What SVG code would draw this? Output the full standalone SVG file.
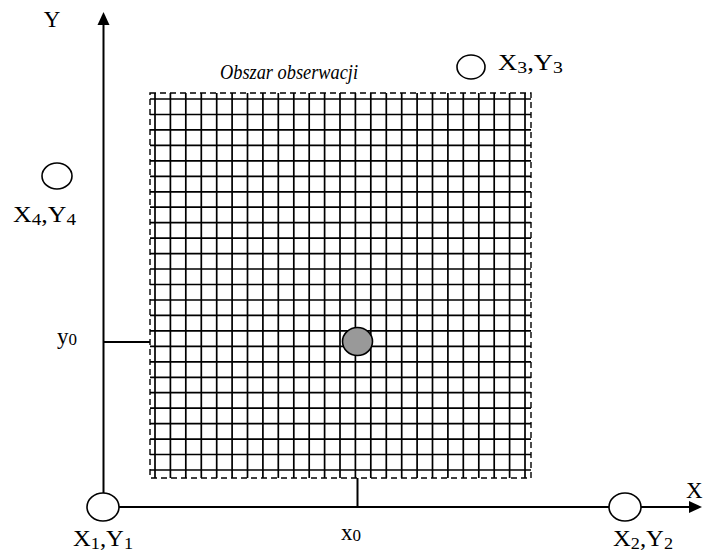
<svg xmlns="http://www.w3.org/2000/svg" width="703" height="555" viewBox="0 0 703 555">
<style>
.t{font-family:"Liberation Serif","Times New Roman",serif;font-size:23px;fill:#000}
.s{font-size:17px}
.it{font-style:italic;font-size:21.5px}
.ax{stroke:#000;stroke-width:2;fill:none}
.pt{fill:#fff;stroke:#000;stroke-width:1.6}
.grid{stroke:#000;stroke-width:1.7;fill:none}
</style>
<rect width="703" height="555" fill="#fff"/>
<g id="grid-area">
<path class="grid" d="M155 93V478M170.4 93V478M185.8 93V478M201.3 93V478M216.7 93V478M232.1 93V478M247.5 93V478M262.9 93V478M278.3 93V478M293.8 93V478M309.2 93V478M324.6 93V478M340 93V478M355.4 93V478M370.8 93V478M386.3 93V478M401.7 93V478M417.1 93V478M432.5 93V478M447.9 93V478M463.3 93V478M478.8 93V478M494.2 93V478M509.6 93V478M525 93V478"/>
<path class="grid" d="M150 99H531M150 114.5H531M150 129.9H531M150 145.4H531M150 160.8H531M150 176.3H531M150 191.8H531M150 207.2H531M150 222.7H531M150 238.1H531M150 253.6H531M150 269H531M150 284.5H531M150 300H531M150 315.4H531M150 330.9H531M150 346.3H531M150 361.8H531M150 377.3H531M150 392.7H531M150 408.2H531M150 423.6H531M150 439.1H531M150 454.5H531M150 470H531"/>
<rect x="150" y="93" width="381" height="385" fill="none" stroke="#000" stroke-width="1.4" stroke-dasharray="6 4"/>
<text class="t it" x="220" y="79" textLength="138" lengthAdjust="spacingAndGlyphs">Obszar obserwacji</text>
</g>
<g id="connectors">
<path class="ax" d="M103.5 493V22"/>
<polygon points="103.5,12 97.5,25 109.5,25" fill="#000"/>
<path class="ax" d="M119 507H692"/>
<polygon points="702,507 689,501 689,513" fill="#000"/>
<path class="ax" d="M103.5 342H150" stroke-width="1.6"/>
<path class="ax" d="M357.5 478V507" stroke-width="1.6"/>
</g>
<g id="axis-y"><text class="t" x="52" y="27" text-anchor="middle">Y</text></g>
<g id="axis-x"><text class="t" x="686" y="498">X</text></g>
<g id="p1">
<ellipse class="pt" cx="103" cy="507" rx="16" ry="14"/>
<text class="t" x="73" y="546" textLength="60" lengthAdjust="spacingAndGlyphs">X<tspan class="s" dy="3">1</tspan><tspan dy="-3">,Y</tspan><tspan class="s" dy="3">1</tspan></text>
</g>
<g id="p2">
<ellipse class="pt" cx="625" cy="507" rx="16" ry="14"/>
<text class="t" x="613" y="546" textLength="60" lengthAdjust="spacingAndGlyphs">X<tspan class="s" dy="3">2</tspan><tspan dy="-3">,Y</tspan><tspan class="s" dy="3">2</tspan></text>
</g>
<g id="p3">
<ellipse class="pt" cx="471" cy="67" rx="14" ry="12"/>
<text class="t" x="498" y="70" textLength="65" lengthAdjust="spacingAndGlyphs">X<tspan class="s" dy="3">3</tspan><tspan dy="-3">,Y</tspan><tspan class="s" dy="3">3</tspan></text>
</g>
<g id="p4">
<ellipse class="pt" cx="57" cy="176" rx="15" ry="13"/>
<text class="t" x="13" y="222" textLength="63" lengthAdjust="spacingAndGlyphs">X<tspan class="s" dy="3">4</tspan><tspan dy="-3">,Y</tspan><tspan class="s" dy="3">4</tspan></text>
</g>
<g id="p0">
<ellipse cx="357.5" cy="341.5" rx="15" ry="14" fill="#999" stroke="#000" stroke-width="1.6"/>
</g>
<g id="label-y0"><text class="t" x="57" y="344">y<tspan class="s" dy="1">0</tspan></text></g>
<g id="label-x0"><text class="t" x="341" y="540">x<tspan class="s" dy="1">0</tspan></text></g>
</svg>
